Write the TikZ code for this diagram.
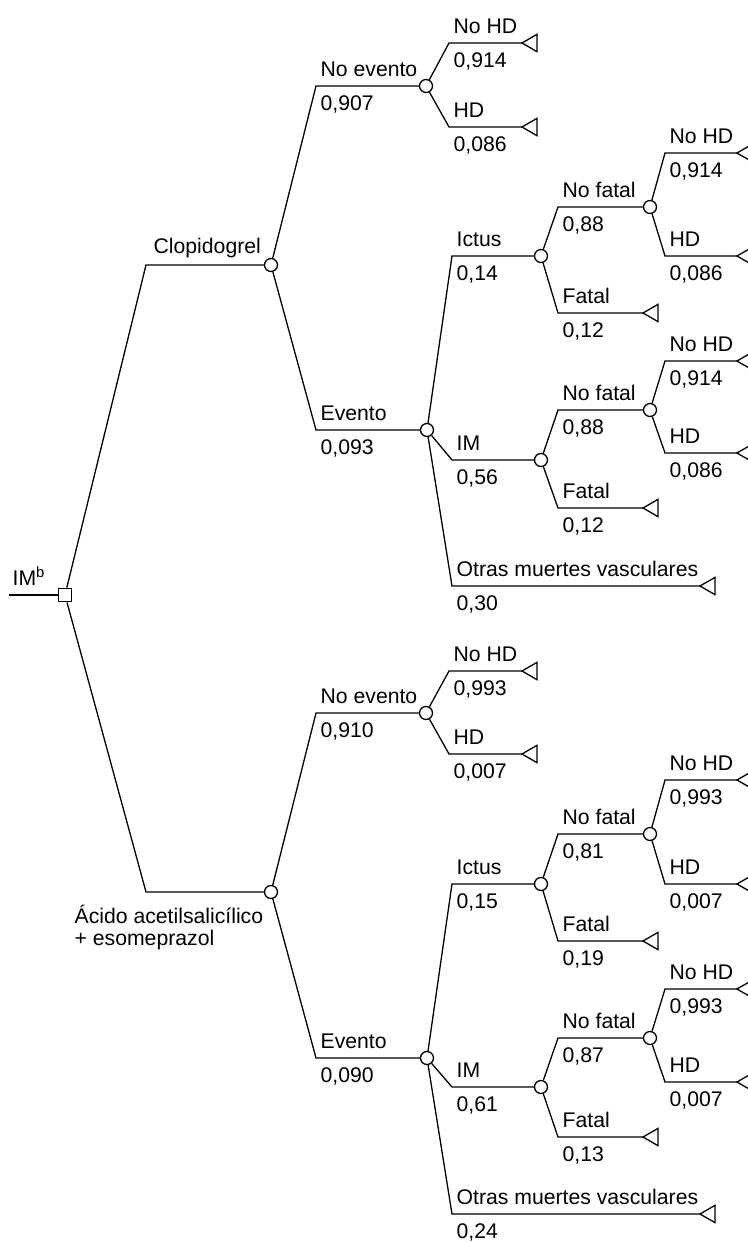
\documentclass[tikz,border=0pt]{standalone}
\usepackage{fontspec}
\setmainfont{Liberation Sans}
\usetikzlibrary{shapes.geometric}

\begin{document}
\begin{tikzpicture}[
  x = 0.5pt, y = -0.5pt,
  line width = 0.65pt,
  font = \fontsize{10.6}{10.6}\selectfont,
  chance/.style = {circle, draw, fill=white, inner sep=0pt, minimum size=6.5pt},
  choice/.style = {rectangle, draw, fill=white, inner sep=0pt, minimum size=6.8pt},
  leaf/.style   = {regular polygon, regular polygon sides=3, shape border rotate=90,
                   draw, inner sep=0pt, outer sep=0pt, minimum size=10pt, anchor=west},
  lab/.style    = {inner sep=0pt, anchor=base west}
]
\useasboundingbox (0,0) rectangle (748,1242);

% ───────── decision ─────────
\coordinate (in) at (9,595);
\node[choice] (D) at (65,595) {};
\node[lab] (D-t) at (12,585) {IM\textsuperscript{b}};

% ───────── clopidogrel ─────────
\coordinate (e-cl) at (146,265);
\node[chance] (cl) at (271,265) {};
\node[lab] (cl-t) at (153,253) {Clopidogrel};

\coordinate (e-cl-n) at (316,86);    \node[chance] (cl-n)   at (426,86)  {};
\coordinate (e-cl-e) at (316,430);   \node[chance] (cl-e)   at (427,430) {};
\coordinate (e-cl-n-y) at (449,43);  \coordinate (e-cl-n-h) at (449,127);
\coordinate (e-cl-i) at (452,256);   \node[chance] (cl-i)   at (541,256) {};
\coordinate (e-cl-m) at (452,460);   \node[chance] (cl-m)   at (541,460) {};
\coordinate (e-cl-o) at (452,586);
\coordinate (e-cl-inf) at (558,207); \node[chance] (cl-inf) at (650,207) {};
\coordinate (e-cl-if) at (558,313);
\coordinate (e-cl-inf-y) at (665,153); \coordinate (e-cl-inf-h) at (665,256);
\coordinate (e-cl-mnf) at (558,410); \node[chance] (cl-mnf) at (650,410) {};
\coordinate (e-cl-mf) at (558,508);
\coordinate (e-cl-mnf-y) at (665,361); \coordinate (e-cl-mnf-h) at (665,453);

% ───────── acido acetilsalicilico ─────────
\coordinate (e-aa) at (146,892);
\node[chance] (aa) at (271,892) {};
\node[lab, align=left] (aa-t) at (74,945) {Ácido acetilsalicílico\\+ esomeprazol};

\coordinate (e-aa-n) at (316,713);   \node[chance] (aa-n)   at (426,713)  {};
\coordinate (e-aa-e) at (316,1058);  \node[chance] (aa-e)   at (427,1058) {};
\coordinate (e-aa-n-y) at (449,671); \coordinate (e-aa-n-h) at (449,754);
\coordinate (e-aa-i) at (452,884);   \node[chance] (aa-i)   at (541,884)  {};
\coordinate (e-aa-m) at (452,1087);  \node[chance] (aa-m)   at (541,1087) {};
\coordinate (e-aa-o) at (452,1214);
\coordinate (e-aa-inf) at (558,834); \node[chance] (aa-inf) at (650,834)  {};
\coordinate (e-aa-if) at (558,941);
\coordinate (e-aa-inf-y) at (665,780); \coordinate (e-aa-inf-h) at (665,884);
\coordinate (e-aa-mnf) at (558,1038); \node[chance] (aa-mnf) at (650,1038) {};
\coordinate (e-aa-mf) at (558,1137);
\coordinate (e-aa-mnf-y) at (665,989); \coordinate (e-aa-mnf-h) at (665,1082);

% ───────── terminals ─────────
\foreach \t/\x/\y in {n-y/522/43, n-h/522/127, inf-y/737/153, inf-h/737/256,
    if/643/313, mnf-y/737/361, mnf-h/737/453, mf/643/508, o/700/586}
  \node[leaf] (t-cl-\t) at (\x,\y) {};
\foreach \t/\x/\y in {n-y/522/671, n-h/522/754, inf-y/737/780, inf-h/737/884,
    if/643/941, mnf-y/737/989, mnf-h/737/1082, mf/643/1137, o/700/1214}
  \node[leaf] (t-aa-\t) at (\x,\y) {};

% ───────── branch labels ─────────
\foreach \e/\t/\v in {
    e-cl-n/No evento/0{,}907, e-cl-e/Evento/0{,}093,
    e-cl-n-y/No HD/0{,}914, e-cl-n-h/HD/0{,}086,
    e-cl-i/Ictus/0{,}14, e-cl-m/IM/0{,}56, e-cl-o/Otras muertes vasculares/0{,}30,
    e-cl-inf/No fatal/0{,}88, e-cl-if/Fatal/0{,}12,
    e-cl-inf-y/No HD/0{,}914, e-cl-inf-h/HD/0{,}086,
    e-cl-mnf/No fatal/0{,}88, e-cl-mf/Fatal/0{,}12,
    e-cl-mnf-y/No HD/0{,}914, e-cl-mnf-h/HD/0{,}086,
    e-aa-n/No evento/0{,}910, e-aa-e/Evento/0{,}090,
    e-aa-n-y/No HD/0{,}993, e-aa-n-h/HD/0{,}007,
    e-aa-i/Ictus/0{,}15, e-aa-m/IM/0{,}61, e-aa-o/Otras muertes vasculares/0{,}24,
    e-aa-inf/No fatal/0{,}81, e-aa-if/Fatal/0{,}19,
    e-aa-inf-y/No HD/0{,}993, e-aa-inf-h/HD/0{,}007,
    e-aa-mnf/No fatal/0{,}87, e-aa-mf/Fatal/0{,}13,
    e-aa-mnf-y/No HD/0{,}993, e-aa-mnf-h/HD/0{,}007} {
  \node[lab] (\e-t) at ([shift={(4,-10)}]\e) {\t};
  \node[lab] (\e-v) at ([shift={(4,24)}]\e) {\v};
}

% ───────── branches ─────────
\draw (in) -- (D);
\draw (D) -- (e-cl) -- (cl);
\draw (D) -- (e-aa) -- (aa);
\foreach \s in {cl,aa} {
  \draw (\s)     -- (e-\s-n)     -- (\s-n);
  \draw (\s)     -- (e-\s-e)     -- (\s-e);
  \draw (\s-n)   -- (e-\s-n-y)   -- (t-\s-n-y);
  \draw (\s-n)   -- (e-\s-n-h)   -- (t-\s-n-h);
  \draw (\s-e)   -- (e-\s-i)     -- (\s-i);
  \draw (\s-e)   -- (e-\s-m)     -- (\s-m);
  \draw (\s-e)   -- (e-\s-o)     -- (t-\s-o);
  \draw (\s-i)   -- (e-\s-inf)   -- (\s-inf);
  \draw (\s-i)   -- (e-\s-if)    -- (t-\s-if);
  \draw (\s-inf) -- (e-\s-inf-y) -- (t-\s-inf-y);
  \draw (\s-inf) -- (e-\s-inf-h) -- (t-\s-inf-h);
  \draw (\s-m)   -- (e-\s-mnf)   -- (\s-mnf);
  \draw (\s-m)   -- (e-\s-mf)    -- (t-\s-mf);
  \draw (\s-mnf) -- (e-\s-mnf-y) -- (t-\s-mnf-y);
  \draw (\s-mnf) -- (e-\s-mnf-h) -- (t-\s-mnf-h);
}
\end{tikzpicture}
\end{document}
